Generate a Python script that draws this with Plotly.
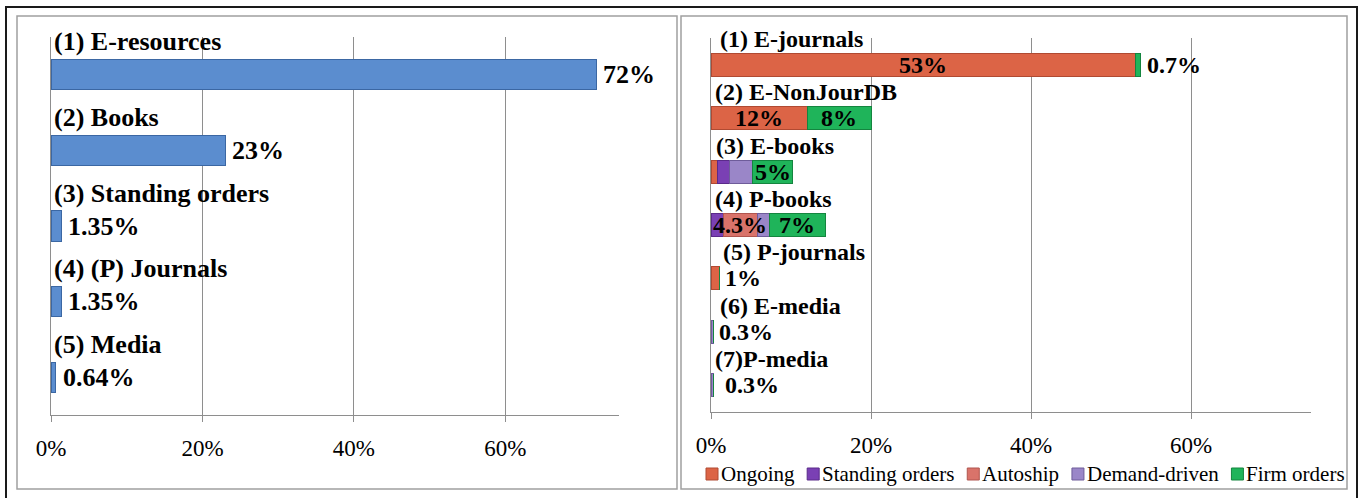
import plotly.graph_objects as go

W, H = 1360, 498
FONT = "Liberation Serif, Times New Roman, serif"

# ---------------- data: left chart ----------------
left_categories = ["(1) E-resources", "(2) Books", "(3) Standing orders",
                   "(4) (P) Journals", "(5) Media"]
left_values = [72, 23, 1.35, 1.35, 0.64]
left_labels = ["72%", "23%", "1.35%", "1.35%", "0.64%"]

# ---------------- data: right chart ----------------
right_categories = ["(1) E-journals", "(2) E-NonJourDB", "(3) E-books", "(4) P-books",
                    "(5) P-journals", "(6) E-media", "(7)P-media"]
series_names = ["Ongoing", "Standing orders", "Autoship", "Demand-driven", "Firm orders"]
ongoing = [53, 12, 0.8, 0, 1, 0, 0]
standing_orders = [0, 0, 1.5, 1.5, 0, 0, 0]
autoship = [0, 0, 0, 4.3, 0, 0, 0]
demand_driven = [0, 0, 2.9, 1.5, 0, 0.3, 0.3]
firm_orders = [0.7, 8, 5, 7, 0, 0, 0]

# value labels on the right chart: (category index, series index, text, placement)
right_value_labels = [
    (0, 0, "53%", "inside"), (0, 4, "0.7%", "outside"),
    (1, 0, "12%", "inside"), (1, 4, "8%", "inside"),
    (2, 4, "5%", "inside"),
    (3, 2, "4.3%", "inside"), (3, 4, "7%", "inside"),
    (4, 0, "1%", "outside"),
    (5, 3, "0.3%", "outside"),
    (6, 3, "0.3%", "outside"),
]

x_tick_vals = [0, 20, 40, 60]
x_tick_text = ["0%", "20%", "40%", "60%"]

# ---------------- styles ----------------
series_values = [ongoing, standing_orders, autoship, demand_driven, firm_orders]
series_colors = ["#DC6446", "#7A40B4", "#D9736A", "#9A86C8", "#1FB45A"]
series_lines = ["#B04A32", "#5A2A8A", "#B0554E", "#6E5C9A", "#14853F"]
left_color, left_line = "#5B8DCF", "#3B67A3"
grid_color = "#8E8E8E"
# small horizontal offsets (px) of the right-hand category labels, as in the original
right_label_xshift = [7, 2, 3, 2, 10, 7, 2]
right_outside_xshift = {4: 4, 5: 4, 6: 10}
# approximate em widths of the legend texts (Times metrics), for spacing
legend_em = [3.5, 6.305, 3.667, 6.276, 4.694]
legend_font = 21

fig = go.Figure()

fig.add_trace(go.Bar(
    x=left_values, y=left_categories, orientation="h", width=0.4,
    marker=dict(color=left_color, line=dict(color=left_line, width=1)),
    xaxis="x", yaxis="y", showlegend=False, hoverinfo="x+y"))

for name, vals, col, lc in zip(series_names, series_values, series_colors, series_lines):
    fig.add_trace(go.Bar(
        x=vals, y=right_categories, orientation="h", width=0.43, name=name,
        marker=dict(color=col, line=dict(color=lc, width=1)),
        xaxis="x2", yaxis="y2", showlegend=False))

annotations = []
# left category labels and values
for cat, v, t in zip(left_categories, left_values, left_labels):
    annotations.append(dict(x=0, y=cat, xref="x", yref="y", text="<b>%s</b>" % cat,
                            xanchor="left", yanchor="middle", xshift=1, yshift=33,
                            showarrow=False, font=dict(family=FONT, size=26, color="black")))
    annotations.append(dict(x=v, y=cat, xref="x", yref="y", text="<b>%s</b>" % t,
                            xanchor="left", yanchor="middle", xshift=5, yshift=0,
                            showarrow=False, font=dict(family=FONT, size=26, color="black")))

# right category labels
for cat, xs in zip(right_categories, right_label_xshift):
    annotations.append(dict(x=0, y=cat, xref="x2", yref="y2", text="<b>%s</b>" % cat,
                            xanchor="left", yanchor="middle", xshift=xs, yshift=26,
                            showarrow=False, font=dict(family=FONT, size=24, color="black")))

# right value labels computed from the stacked data
for ci, si, t, place in right_value_labels:
    start = sum(series_values[k][ci] for k in range(si))
    val = series_values[si][ci]
    if place == "inside":
        xpos, anchor, xs = start + val / 2.0, "center", 0
    else:
        xpos, anchor = sum(s[ci] for s in series_values), "left"
        xs = right_outside_xshift.get(ci, 4)
    annotations.append(dict(x=xpos, y=right_categories[ci], xref="x2", yref="y2",
                            text="<b>%s</b>" % t, xanchor=anchor, yanchor="middle",
                            xshift=xs, yshift=0, showarrow=False,
                            font=dict(family=FONT, size=24, color="black")))

shapes = []


def px_rect(x0, y0, x1, y1, color, width, fill=None):
    d = dict(type="rect", xref="paper", yref="paper",
             x0=x0 / W, x1=x1 / W, y0=1 - y1 / H, y1=1 - y0 / H,
             line=dict(color=color, width=width), layer="below")
    if fill:
        d["fillcolor"] = fill
        d["layer"] = "above"
    return d


# outer frame and panel frames
shapes.append(px_rect(6, 7, 1357, 520, "#1A1A1A", 2))
shapes.append(px_rect(17, 16, 677, 489, "#A0A0A0", 1.5))
shapes.append(px_rect(681, 16, 1347, 489, "#A0A0A0", 1.5))

# custom legend for the right chart, spread between x=706 and x=1345
leg_left, leg_right, sq, sq_gap = 706, 1345, 12, 3
text_w = [e * legend_font for e in legend_em]
gap = (leg_right - leg_left - sum(text_w) - len(text_w) * (sq + sq_gap)) / (len(text_w) - 1)
legend_y = 474
sx = leg_left
for name, col, lc, tw in zip(series_names, series_colors, series_lines, text_w):
    shapes.append(px_rect(sx, legend_y - 6, sx + sq, legend_y + 6, lc, 1, fill=col))
    annotations.append(dict(x=(sx + sq + sq_gap - 1) / W, y=1 - legend_y / H, xref="paper",
                            yref="paper", text=name, xanchor="left", yanchor="middle",
                            showarrow=False, borderpad=0,
                            font=dict(family=FONT, size=legend_font, color="black")))
    sx += sq + sq_gap + tw + gap

axis_common = dict(range=[0, 75], tickvals=x_tick_vals, ticktext=x_tick_text,
                   showgrid=True, gridcolor=grid_color, gridwidth=1,
                   showline=True, linecolor=grid_color, linewidth=1,
                   ticks="outside", ticklen=6, tickcolor=grid_color,
                   zeroline=False, ticklabelstandoff=6, automargin=False,
                   tickfont=dict(family=FONT, size=23, color="black"), fixedrange=True)

y_common = dict(type="category", categoryorder="array", showticklabels=False,
                showgrid=False, showline=True, linecolor=grid_color, linewidth=1,
                ticks="", zeroline=False, fixedrange=True, automargin=False)

fig.update_layout(
    width=W, height=H, margin=dict(l=0, r=0, t=0, b=0, pad=0, autoexpand=False),
    paper_bgcolor="white", plot_bgcolor="white", barmode="stack",
    showlegend=False,
    xaxis=dict(domain=[51 / W, 619 / W], anchor="y", **axis_common),
    yaxis=dict(domain=[1 - 415 / H, 1 - 37 / H], anchor="x",
               categoryarray=left_categories,
               range=[len(left_categories) - 0.5, -0.5], **y_common),
    xaxis2=dict(domain=[711 / W, 1311 / W], anchor="y2", **axis_common),
    yaxis2=dict(domain=[1 - 412 / H, 1 - 38 / H], anchor="x2",
                categoryarray=right_categories,
                range=[len(right_categories) - 0.5, -0.5], **y_common),
    annotations=annotations, shapes=shapes,
    font=dict(family=FONT, color="black"),
)

fig.write_html("out.html",
               config={"displayModeBar": False},
               post_script="document.body.style.margin='0px';"
                           "document.body.style.overflow='hidden';")
